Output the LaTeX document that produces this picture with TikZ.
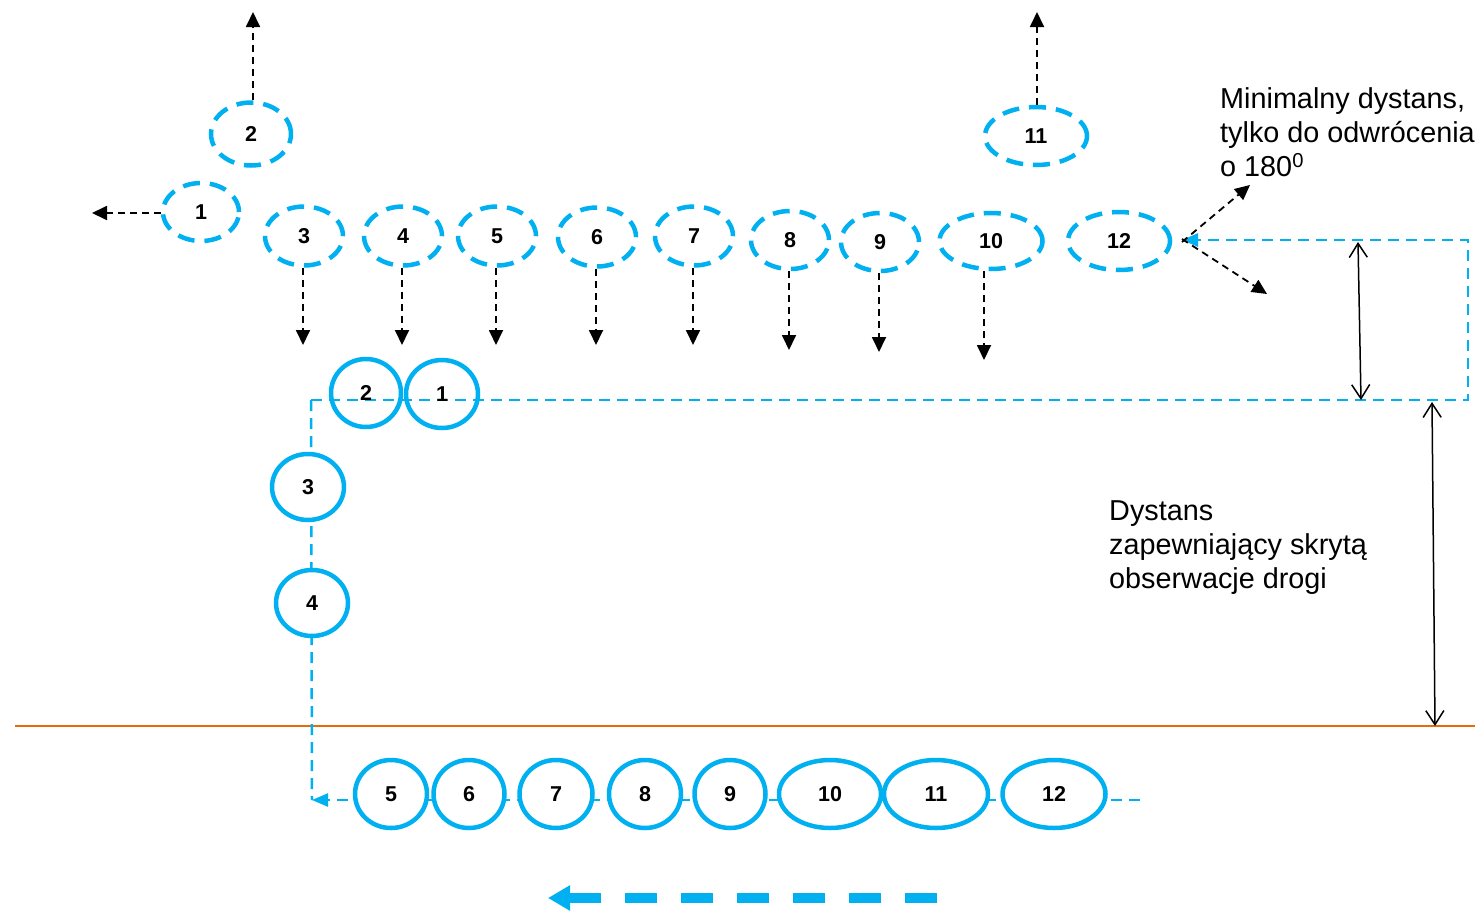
\documentclass[tikz,border=0pt]{standalone}
\usepackage{fontspec}
\setmainfont{Liberation Sans}
\usetikzlibrary{shapes.geometric, arrows.meta}
\definecolor{route}{HTML}{00B0F0}
\definecolor{road}{HTML}{E46C0A}

\begin{document}
\begin{tikzpicture}[x=1pt, y=-1pt,
  car/.style={ellipse, draw=route, line width=4.5pt, inner sep=0pt, font=\fontsize{21.5}{24}\selectfont\bfseries},
  plan/.style={car, dash pattern=on 17pt off 10pt},
  held/.style={car, fill=white},
  sz/.style 2 args={minimum width=#1, minimum height=#2},
  mv/.style={draw, line width=1.8pt, dash pattern=on 7pt off 5pt, -{Triangle[length=15pt, width=14pt]}},
  trk/.style={draw=route, line width=2.5pt, dash pattern=on 11pt off 7pt},
  gap/.style={draw, line width=1.5pt, {Straight Barb[length=14pt, width=18pt]}-{Straight Barb[length=14pt, width=18pt]}},
  txt/.style={anchor=north west, align=left, inner sep=0pt, font=\fontsize{28.8}{34}\selectfont}]
  \useasboundingbox (0,0) rectangle (1483,916);

  \coordinate (ctop)   at (311,400);
  \coordinate (cright) at (1468,400);
  \coordinate (cup)    at (1468,240);
  \coordinate (turn)   at (1182,240);
  \coordinate (cbot)   at (312,800);
  \coordinate (tail)   at (1140,800);

  \draw[road, line width=2pt] (15,726) -- (1475,726);
  \draw[trk, -{Triangle[length=16pt, width=13pt]}] (ctop) -- (cright) -- (cup) -- (turn);
  \draw[trk] (ctop) -- (cbot);
  \draw[trk, -{Triangle[length=16pt, width=13pt]}] (tail) -- (cbot);

  \node[plan, sz={80}{63}]  (d2)  at (251,134)  {2};
  \node[plan, sz={76}{58}]  (d1)  at (201,212)  {1};
  \node[plan, sz={78}{59}]  (d3)  at (304,236)  {3};
  \node[plan, sz={78}{59}]  (d4)  at (403,236)  {4};
  \node[plan, sz={78}{59}]  (d5)  at (497,236)  {5};
  \node[plan, sz={78}{59}]  (d6)  at (597,237)  {6};
  \node[plan, sz={78}{59}]  (d7)  at (694,236)  {7};
  \node[plan, sz={78}{58}]  (d8)  at (790,240)  {8};
  \node[plan, sz={78}{58}]  (d9)  at (880,242)  {9};
  \node[plan, sz={103}{56}] (d10) at (991,241)  {10};
  \node[plan, sz={102}{58}] (d12) at (1119,241) {12};
  \node[plan, sz={102}{58}] (d11) at (1036,136) {11};

  \node[car, sz={70}{68}]  (s2)  at (366,393)  {2};
  \node[car, sz={72}{68}]  (s1)  at (442,394)  {1};
  \node[held, sz={72}{66}]  (s3)  at (308,487)  {3};
  \node[held, sz={72}{66}]  (s4)  at (312,603)  {4};
  \node[held, sz={72}{68}]  (s5)  at (391,794)  {5};
  \node[held, sz={71}{68}]  (s6)  at (469,794)  {6};
  \node[held, sz={73}{68}]  (s7)  at (556,794)  {7};
  \node[held, sz={72}{68}]  (s8)  at (645,794)  {8};
  \node[held, sz={71}{68}]  (s9)  at (730,794)  {9};
  \node[held, sz={102}{68}] (s10) at (830,794)  {10};
  \node[held, sz={104}{68}] (s11) at (936,794)  {11};
  \node[held, sz={103}{68}] (s12) at (1054,794) {12};

  \coordinate (t2)  at (253,12);
  \coordinate (t11) at (1037,12);
  \coordinate (t1)  at (92,213);
  \coordinate (t3)  at (303,345);
  \coordinate (t4)  at (402,345);
  \coordinate (t5)  at (496,345);
  \coordinate (t6)  at (596,345);
  \coordinate (t7)  at (693,345);
  \coordinate (t8)  at (789,350);
  \coordinate (t9)  at (879,352);
  \coordinate (t10) at (984,360);
  \coordinate (tup) at (1250,185);
  \coordinate (tdn) at (1267,294);

  \draw[mv] ([xshift=2pt]d2.north) -- (t2);
  \draw[mv] ([xshift=1pt]d11.north) -- (t11);
  \draw[mv] ([yshift=-1pt]d1.west) -- (t1);
  \draw[mv] ([xshift=-1pt]d3.south) -- (t3);
  \draw[mv] ([xshift=-1pt]d4.south) -- (t4);
  \draw[mv] ([xshift=-1pt]d5.south) -- (t5);
  \draw[mv] ([xshift=-1pt]d6.south) -- (t6);
  \draw[mv] ([xshift=-1pt]d7.south) -- (t7);
  \draw[mv] ([xshift=-1pt]d8.south) -- (t8);
  \draw[mv] ([xshift=-1pt]d9.south) -- (t9);
  \draw[mv] ([xshift=-7pt]d10.south) -- (t10);
  \draw[mv] ([yshift=-2pt]turn) -- (tup);
  \draw[mv] ([yshift=1pt]turn) -- (tdn);

  \coordinate (g1a) at (1358,242);
  \coordinate (g1b) at (1361,400);
  \coordinate (g2a) at (1432,402);
  \coordinate (g2b) at (1435,726);
  \draw[gap] (g1a) -- (g1b);
  \draw[gap] (g2a) -- (g2b);

  \coordinate (dirA) at (937,898);
  \coordinate (dirB) at (548,898);
  \draw[route, line width=10pt, dash pattern=on 32pt off 24pt, -{Triangle[length=22pt, width=24pt]}] (dirA) -- (dirB);

  \node[txt] (turnnote) at (1220,87) {Minimalny dystans,\\ tylko do odwrócenia\\ o 180\textsuperscript{0}};
  \node[txt] (hidenote) at (1109,500) {Dystans\\ zapewniający skrytą\\ obserwacje drogi};
\end{tikzpicture}
\end{document}
